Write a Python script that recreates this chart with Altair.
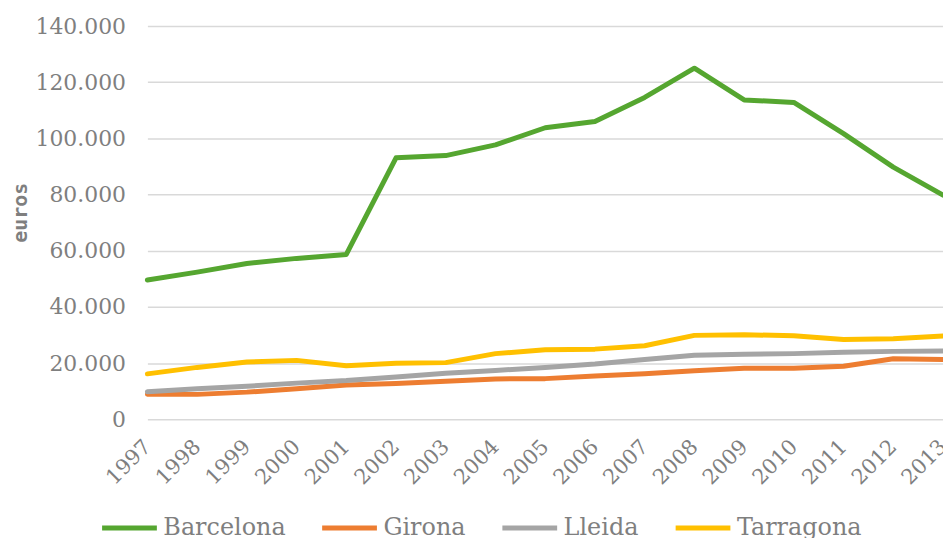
import altair as alt
import pandas as pd

years = list(range(1997, 2014))
barcelona = [49.6, 52.4, 55.5, 57.3, 58.7, 93.1, 93.9, 97.7, 103.8, 106.0, 114.6, 125.0, 113.7, 112.8, 101.7, 89.8, 79.8]
girona = [8.9, 8.9, 9.7, 10.9, 12.2, 12.8, 13.6, 14.4, 14.5, 15.4, 16.2, 17.3, 18.2, 18.2, 18.9, 21.6, 21.3]
lleida = [9.8, 10.9, 11.8, 12.9, 13.8, 15.1, 16.4, 17.4, 18.5, 19.7, 21.3, 22.8, 23.2, 23.4, 23.9, 24.2, 24.3]
tarragona = [16.2, 18.5, 20.4, 21.0, 19.1, 20.0, 20.2, 23.4, 24.8, 25.0, 26.2, 29.9, 30.1, 29.8, 28.4, 28.7, 29.7]

series_names = ["Barcelona", "Girona", "Lleida", "Tarragona"]
series_values = [barcelona, girona, lleida, tarragona]
colors = ["#55A630", "#ED7D31", "#A5A5A5", "#FFC000"]
y_ticks = [0, 20000, 40000, 60000, 80000, 100000, 120000, 140000]

rows = []
for name, vals in zip(series_names, series_values):
    for yr, v in zip(years, vals):
        rows.append({"year": str(yr), "serie": name, "value": v * 1000})
df = pd.DataFrame(rows)

FONT = "DejaVu Serif"
GRAY = "#7F7F7F"

chart = alt.Chart(df).mark_line(strokeWidth=5, strokeCap="round", strokeJoin="round").encode(
    x=alt.X("year:O", sort=[str(y) for y in years],
            scale=alt.Scale(type="point", padding=0),
            axis=alt.Axis(title=None, labelAngle=-45, labelAlign="right", labelBaseline="middle",
                          labelPadding=24, ticks=False, domain=False, grid=False,
                          labelFont=FONT, labelFontSize=21, labelColor=GRAY)),
    y=alt.Y("value:Q", scale=alt.Scale(domain=[0, 140000], nice=False),
            axis=alt.Axis(title="euros", values=y_ticks,
                          labelExpr="replace(format(datum.value, ','), ',', '.')",
                          labelFont=FONT, labelFontSize=22, labelColor=GRAY, labelPadding=22,
                          titleFont="DejaVu Sans Mono", titleFontSize=20, titleFontWeight="bold",
                          titleColor=GRAY, titlePadding=4, titleY=187,
                          ticks=False, domain=False, grid=True, gridColor="#D9D9D9", gridWidth=1.5)),
    color=alt.Color("serie:N", sort=series_names,
                    scale=alt.Scale(domain=series_names, range=colors),
                    legend=alt.Legend(title=None, orient="none", direction="horizontal",
                                      legendX=-48, legendY=474,
                                      symbolType="stroke", symbolSize=3025, symbolStrokeWidth=5,
                                      labelFont=FONT, labelFontSize=24, labelColor=GRAY,
                                      columnPadding=26, labelOffset=4)),
).properties(
    width=799, height=395,
    padding={"left": 140, "top": 17, "right": 0, "bottom": 118},
    autosize=alt.AutoSizeParams(type="none"),
).configure_view(stroke=None)

chart.save("out.html", embed_options={"renderer": "svg", "actions": False})
